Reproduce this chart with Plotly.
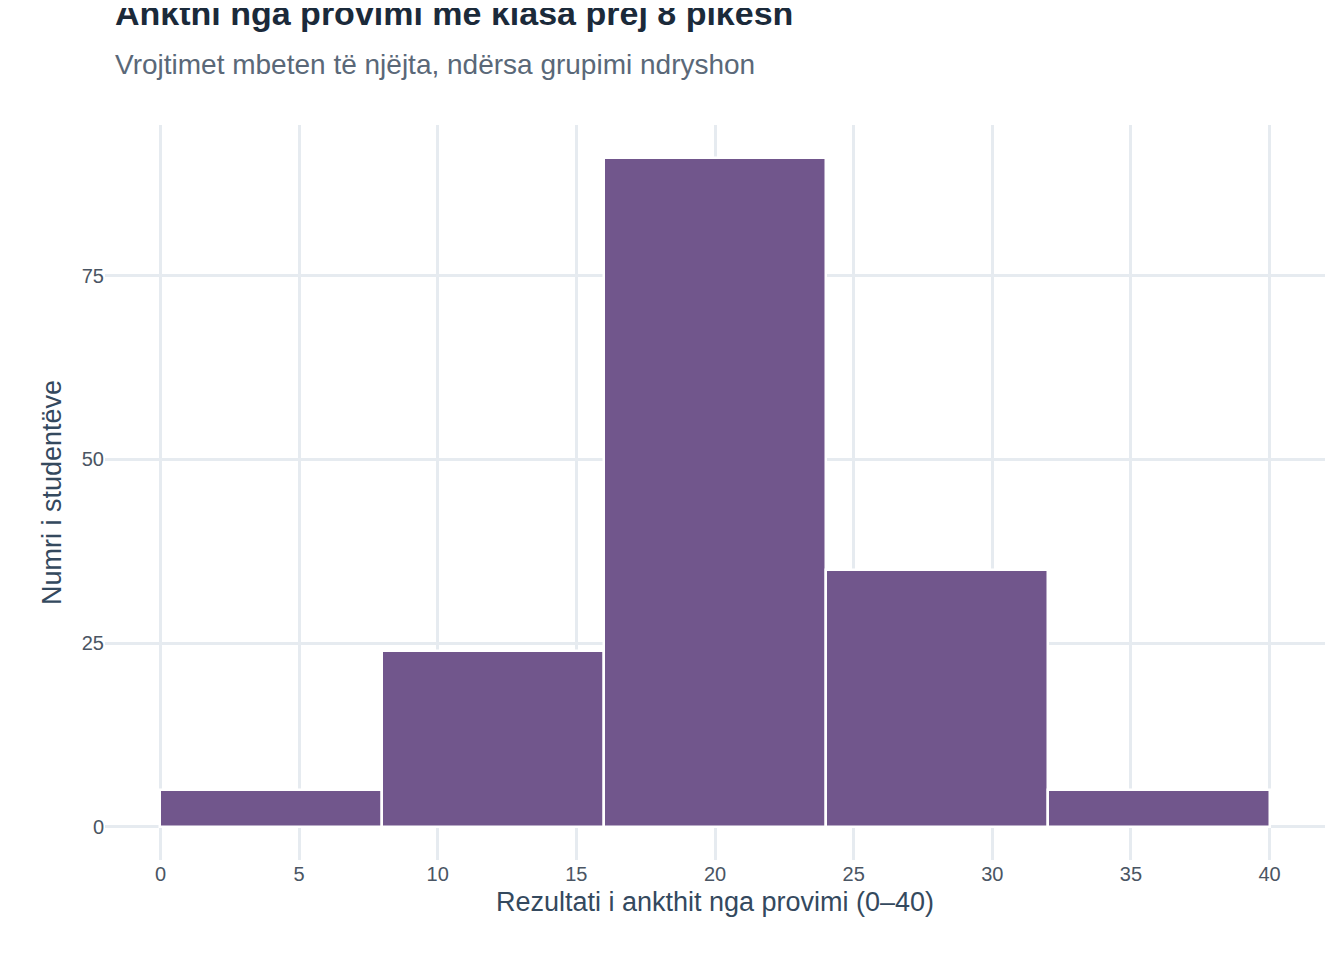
import plotly.graph_objects as go

bin_starts = [0, 8, 16, 24, 32]
bin_width = 8
counts = [5, 24, 91, 35, 5]
x_ticks = [0, 5, 10, 15, 20, 25, 30, 35, 40]
y_ticks = [0, 25, 50, 75]

centers = [s + bin_width / 2 for s in bin_starts]
fig = go.Figure(go.Bar(x=centers, y=counts, width=[bin_width] * len(counts),
                       marker=dict(color="#71568c", line=dict(color="white", width=2.5))))
fig.update_layout(
    width=1344, height=960, plot_bgcolor="white", paper_bgcolor="white",
    margin=dict(l=97, r=27, t=117, b=108, autoexpand=False),
    font=dict(family="Liberation Sans, Arial", color="#3d4a5a"),
    showlegend=False, bargap=0,
    annotations=[
        dict(text="<b>Ankthi nga provimi me klasa prej 8 pikësh</b>", xref="paper", yref="paper",
             x=-0.0, xanchor="left", y=1, yshift=112, yanchor="middle", showarrow=False,
             font=dict(size=34, color="#1b2a3a"), xshift=8),
        dict(text="Vrojtimet mbeten të njëjta, ndërsa grupimi ndryshon", xref="paper", yref="paper",
             x=0, xanchor="left", y=1, yshift=61, yanchor="middle", showarrow=False,
             font=dict(size=28, color="#5a6878"), xshift=8),
    ],
)
fig.update_xaxes(range=[-2, 42], tickvals=x_ticks, showgrid=True, gridcolor="#e6ebf0", gridwidth=2.5,
                 zeroline=False, tickfont=dict(size=20, color="#4a5563"), automargin=False,
                 title=dict(text="Rezultati i ankthit nga provimi (0–40)", font=dict(size=27, color="#34495e"), standoff=8))
fig.update_yaxes(range=[-4.5, 95.5], tickvals=y_ticks, showgrid=True, gridcolor="#e6ebf0", gridwidth=2.5,
                 zeroline=False, tickfont=dict(size=20, color="#4a5563"), automargin=False,
                 title=dict(text="Numri i studentëve", font=dict(size=27, color="#34495e"), standoff=12))
fig.write_html("out.html")
